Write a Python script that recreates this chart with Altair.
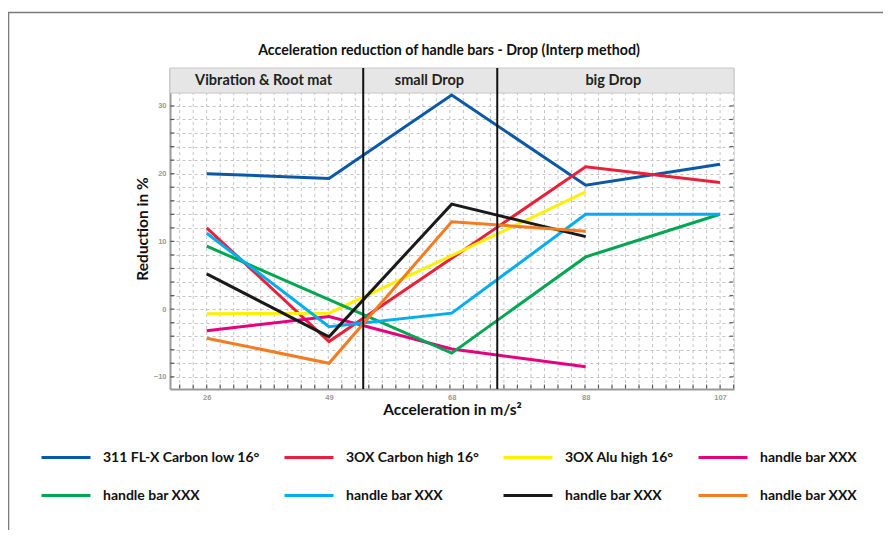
import json
import altair as alt
import pandas as pd

# ---------------- data ----------------
title_text = "Acceleration reduction of handle bars - Drop (Interp method)"
accel = [26, 49, 68, 88, 107]
names = ["311 FL-X Carbon low 16°", "3OX Carbon high 16°", "3OX Alu high 16°",
         "handle bar XXX", "handle bar XXX", "handle bar XXX", "handle bar XXX", "handle bar XXX"]
colors = ["#0a58a6", "#e8203a", "#fff000", "#e6007e", "#00a651", "#00aeef", "#1a1a1a", "#f47b20"]

s_blue = [20.0, 19.3, 31.6, 18.3, 21.4]
s_red = [12.0, -4.8, 7.5, 21.0, 18.7]
s_yellow = [-0.7, -0.6, 7.9, 17.3, None]
s_magenta = [-3.2, -1.1, -5.9, -8.5, None]
s_green = [9.3, 1.4, -6.5, 7.7, 14.0]
s_lblue = [11.2, -2.6, -0.6, 14.0, 14.0]
s_black = [5.2, -4.1, 15.5, 10.7, None]
s_orange = [-4.3, -8.0, 12.9, 11.5, None]
series = [s_blue, s_red, s_yellow, s_magenta, s_green, s_lblue, s_black, s_orange]

seg_names = ["Vibration & Root mat", "small Drop", "big Drop"]
seg_start = [19.1, 54.3, 74.8]
seg_end = [54.3, 74.8, 109.0]

y_lo, y_hi = -11.8, 35.6
strip_lo = 31.9

# ---------------- tables ----------------
ids = [str(i) for i in range(len(names))]
rows = []
for i, s in enumerate(series):
    for xv, yv in zip(accel, s):
        if yv is not None:
            rows.append({"sid": ids[i], "accel": xv, "red": yv, "order": i})
df = pd.DataFrame(rows)

seg_df = pd.DataFrame({"name": seg_names, "start": seg_start, "end": seg_end,
                       "mid": [(a + b) / 2 for a, b in zip(seg_start, seg_end)]})
sep_df = pd.DataFrame({"x": seg_start[1:]})

W, H = 564, 321
FONT = "Lato"
TICKFONT = "Liberation Sans"

# piecewise x scale (the reference axis is not evenly spaced)
xscale = alt.Scale(domain=[seg_start[0], 26, 49, 68, 88, 107, seg_end[-1]],
                   range=[0, 36.7, 159, 281.7, 415.7, 550, W], nice=False, zero=False)
yscale = alt.Scale(domain=[y_lo, y_hi], nice=False, zero=False)
gscale = alt.Scale(domain=[-2.716, 39.03], nice=False, zero=False)

# vertical minor grid (even spacing in the reference)
grid = alt.Chart(alt.sequence(-2, 40, 1, as_="g")).mark_rule(
    color="#c4c4c4", strokeDash=[3, 3], strokeWidth=1
).encode(x=alt.X("g:Q", scale=gscale, axis=None))

# small inward ticks along bottom, left and right edges
bottom_ticks = alt.Chart(alt.sequence(-2, 40, 1, as_="g")).mark_tick(
    color="#222", thickness=1.2, size=4, orient="vertical"
).encode(x=alt.X("g:Q", scale=gscale, axis=None), y=alt.value(H - 2.5))
ytick_df = pd.DataFrame({"v": list(range(-10, 31, 2))})
left_ticks = alt.Chart(ytick_df).mark_tick(color="#222", thickness=1.2, size=4, orient="horizontal").encode(
    y=alt.Y("v:Q", scale=yscale), x=alt.value(2.5))
right_ticks = alt.Chart(ytick_df).mark_tick(color="#222", thickness=1.2, size=4, orient="horizontal").encode(
    y=alt.Y("v:Q", scale=yscale), x=alt.value(W - 2.5))

strip = alt.Chart(seg_df).mark_rect(fill="#e6e6e6", stroke="#c8c8c8", strokeWidth=1).encode(
    x=alt.X("start:Q", scale=xscale, axis=None), x2="end:Q",
    y=alt.datum(strip_lo, scale=yscale), y2=alt.datum(y_hi)
)
strip_text = alt.Chart(seg_df).mark_text(font=FONT, fontSize=14.5, fontWeight="bold", color="#222").encode(
    x=alt.X("mid:Q", scale=xscale, axis=None),
    y=alt.datum((strip_lo + y_hi) / 2, scale=yscale),
    text="name:N"
)

label_expr = json.dumps(names, ensure_ascii=False) + "[toNumber(datum.value)]"

lines = alt.Chart(df).mark_line(strokeWidth=3).encode(
    x=alt.X("accel:Q", scale=xscale,
            axis=alt.Axis(values=accel, tickCount=100, format="d", title="Acceleration in m/s²",
                          grid=False, ticks=False,
                          labelColor="#9a9a9a", labelFontSize=7.5, labelFont=TICKFONT,
                          labelFontWeight="bold", labelPadding=4, labelOverlap=False,
                          domainColor="#9a9a9a", domainWidth=2,
                          titleFont=FONT, titleFontSize=15.5, titleFontWeight="bold",
                          titleColor="#111", titlePadding=2)),
    y=alt.Y("red:Q", scale=yscale,
            axis=alt.Axis(values=list(range(-10, 31, 2)), tickCount=100, format="d",
                          labelExpr="datum.value % 10 === 0 ? datum.label : ''",
                          labelOverlap=False,
                          title="Reduction in %", grid=True, gridColor="#c4c4c4", gridDash=[3, 3],
                          ticks=False, labelColor="#9a9a9a", labelFontSize=7.5,
                          labelFont=TICKFONT, labelFontWeight="bold", labelPadding=4,
                          domainColor="#9a9a9a", domainWidth=2,
                          titleFont=FONT, titleFontSize=15.5, titleFontWeight="bold",
                          titleColor="#111", titlePadding=3)),
    color=alt.Color("sid:N", scale=alt.Scale(domain=ids, range=colors),
                    legend=alt.Legend(orient="none", legendX=-130, legendY=363.5, columns=4,
                                      direction="horizontal",
                                      title=None, symbolType="stroke", symbolSize=2401,
                                      symbolStrokeWidth=3, labelExpr=label_expr,
                                      labelFont=FONT, labelFontSize=14, labelFontWeight="bold",
                                      labelColor="#111", labelOffset=11, columnPadding=18,
                                      rowPadding=5, padding=0, labelLimit=300)),
    order="order:Q",
    detail="sid:N",
)

seps = alt.Chart(sep_df).mark_rule(color="#111", strokeWidth=2).encode(
    x=alt.X("x:Q", scale=xscale, axis=None)
)

# outer frame (top and left edges visible in the reference)
frame = alt.Chart(alt.Data(values=[{}])).mark_rect(filled=False, stroke="#7a7a7a", strokeWidth=1.5).encode(
    x=alt.value(-161.5), x2=alt.value(900), y=alt.value(-55.5), y2=alt.value(700)
)

title = alt.Chart(alt.Data(values=[{"t": title_text}])).mark_text(
    font=FONT, fontSize=14.2, fontWeight="bold", color="#111", baseline="middle", align="center"
).encode(x=alt.value(W / 2 - 3), y=alt.value(-17), text="t:N")

chart = alt.layer(grid, bottom_ticks, left_ticks, right_ticks, strip, strip_text, lines, seps,
                  frame, title).resolve_scale(
    x="independent"
).properties(
    width=W, height=H,
    autosize=alt.AutoSizeParams(type="none"),
    padding={"left": 162, "top": 60, "right": 149, "bottom": 141},
).configure_view(stroke="#8a8a8a", strokeWidth=1.5).configure(background="white")

chart.save("out.html", embed_options={"renderer": "svg", "actions": False})
